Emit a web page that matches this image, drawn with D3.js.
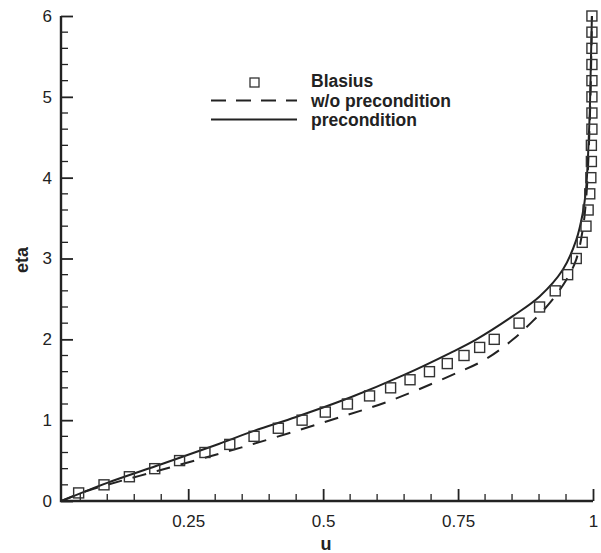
<!DOCTYPE html>
<html>
<head>
<meta charset="utf-8">
<script src="https://cdn.jsdelivr.net/npm/d3@7"></script>
<style>
  body { margin: 0; background: #fff; }
  text { font-family: "Liberation Sans", Arial, sans-serif; fill: #222; }
</style>
</head>
<body>
<script>
/* ------------------------------- chart data ------------------------------- */
// Blasius reference points (eta, u)
const blasiusEta = [0.1, 0.2, 0.3, 0.4, 0.5, 0.6, 0.7, 0.8, 0.9, 1.0,
                    1.1, 1.2, 1.3, 1.4, 1.5, 1.6, 1.7, 1.8, 1.9, 2.0,
                    2.2, 2.4, 2.6, 2.8, 3.0, 3.2, 3.4, 3.6, 3.8, 4.0,
                    4.2, 4.4, 4.6, 4.8, 5.0, 5.2, 5.4, 5.6, 5.8, 6.0];
const blasiusU = [0.047, 0.094, 0.141, 0.188, 0.234, 0.281, 0.327, 0.372, 0.417, 0.461,
                  0.504, 0.545, 0.586, 0.625, 0.661, 0.697, 0.730, 0.761, 0.790, 0.817,
                  0.863, 0.901, 0.930, 0.953, 0.969, 0.980, 0.987, 0.991, 0.994, 0.996,
                  0.997, 0.997, 0.998, 0.998, 0.998, 0.998, 0.998, 0.998, 0.998, 0.998];

// w/o precondition (dashed)
const noPrecU   = [0.015, 0.065, 0.194, 0.349, 0.509, 0.620, 0.729, 0.800, 0.852, 0.886, 0.920, 0.951, 0.969, 0.981, 0.988, 0.993, 0.996, 0.998];
const noPrecEta = [0.0,   0.13,  0.374, 0.663, 0.99,  1.23,  1.53,  1.75,  2.0,   2.21,  2.45,  2.74,  2.99,  3.36,  3.8,   4.5,   5.2,   6.0];

// precondition (solid)
const precU   = [0.015, 0.10,  0.20,  0.30, 0.373, 0.45, 0.55, 0.65, 0.735, 0.784, 0.852, 0.901, 0.944, 0.969, 0.981, 0.987, 0.991, 0.994, 0.996, 0.998];
const precEta = [0.0,   0.225, 0.455, 0.69, 0.87,  1.04, 1.28, 1.56, 1.83,  2.0,   2.29,  2.53,  2.86,  3.23,  3.56,  3.85,  4.3,   4.8,   5.4,   6.0];

const xMajor = [0.25, 0.5, 0.75, 1];
const yMajor = [0, 1, 2, 3, 4, 5, 6];

const legendLabels = ["Blasius", "w/o precondition", "precondition"];

/* ------------------------------ document size ----------------------------- */
const width = 601, height = 553;
const plotL = 61, plotR = 593, plotT = 16, plotB = 501;
const ink = "#222";

const svg = d3.select("body").append("svg").attr("width", width).attr("height", height);

const x = d3.scaleLinear().domain([0.0143, 1]).range([plotL, plotR]);
const y = d3.scaleLinear().domain([0, 6]).range([plotB, plotT]);

//clip for the curves
svg.append("clipPath").attr("id", "plot")
    .append("rect").attr("x", plotL).attr("y", plotT - 2).attr("width", plotR - plotL + 3).attr("height", plotB - plotT + 2);

/* ---------------------------------- axes ---------------------------------- */
const xMinor = d3.range(1, 20).map(i => i * 0.05).filter(v => !xMajor.some(m => Math.abs(m - v) < 1e-9));
const yMinor = d3.range(1, 30).map(i => i * 0.2).filter(v => !yMajor.some(m => Math.abs(m - v) < 1e-9));

const xAxis = svg.append("g").attr("transform", `translate(0,${plotB})`)
    .call(d3.axisBottom(x).tickValues(xMajor).tickSize(-12).tickPadding(14).tickFormat(d3.format("")));
xAxis.select(".domain").remove();
xAxis.append("g").selectAll("line").data(xMinor).join("line")
    .attr("x1", d => x(d)).attr("x2", d => x(d)).attr("y1", 0).attr("y2", -7)
    .attr("stroke", ink).attr("stroke-width", 1.3);

const yAxis = svg.append("g").attr("transform", `translate(${plotL},0)`)
    .call(d3.axisLeft(y).tickValues(yMajor).tickSize(-12).tickPadding(9).tickFormat(d3.format("")));
yAxis.select(".domain").remove();
yAxis.append("g").selectAll("line").data(yMinor).join("line")
    .attr("x1", 0).attr("x2", 7).attr("y1", d => y(d)).attr("y2", d => y(d))
    .attr("stroke", ink).attr("stroke-width", 1.3);

svg.selectAll(".tick line").attr("stroke", ink).attr("stroke-width", 1.8);
svg.selectAll(".tick text").attr("font-size", 17).attr("fill", ink)
    .attr("font-family", "Liberation Sans, Arial, sans-serif");

//axis lines
svg.append("path").attr("d", `M${plotL},${plotT}V${plotB}H${plotR}`)
    .attr("fill", "none").attr("stroke", ink).attr("stroke-width", 2.4);

//axis titles
svg.append("text").attr("x", 326).attr("y", 550).attr("text-anchor", "middle")
    .attr("font-size", 18).attr("font-weight", "bold").text("u");
svg.append("text").attr("transform", "translate(28,260) rotate(-90)").attr("text-anchor", "middle")
    .attr("font-size", 18).attr("font-weight", "bold").text("eta");

/* ---------------------------------- data ---------------------------------- */
const line = d3.line().x(d => x(d[0])).y(d => y(d[1])).curve(d3.curveCatmullRom);
const plot = svg.append("g").attr("clip-path", "url(#plot)");

svg.append("g").selectAll("rect").data(d3.zip(blasiusU, blasiusEta)).join("rect")
    .attr("x", d => x(d[0]) - 5).attr("y", d => y(d[1]) - 5)
    .attr("width", 10).attr("height", 10)
    .attr("fill", "none").attr("stroke", "#333").attr("stroke-width", 1.4);

plot.append("path").datum(d3.zip(noPrecU, noPrecEta))
    .attr("d", line).attr("fill", "none").attr("stroke", ink).attr("stroke-width", 2)
    .attr("stroke-dasharray", "14,11");

plot.append("path").datum(d3.zip(precU, precEta))
    .attr("d", line).attr("fill", "none").attr("stroke", ink).attr("stroke-width", 2);

/* --------------------------------- legend --------------------------------- */
const legend = svg.append("g");
legend.append("rect").attr("x", 250).attr("y", 78).attr("width", 9).attr("height", 9)
    .attr("fill", "none").attr("stroke", "#333").attr("stroke-width", 1.3);
legend.append("line").attr("x1", 211).attr("x2", 297).attr("y1", 100.5).attr("y2", 100.5)
    .attr("stroke", ink).attr("stroke-width", 2).attr("stroke-dasharray", "15,10");
legend.append("line").attr("x1", 211).attr("x2", 297).attr("y1", 119.5).attr("y2", 119.5)
    .attr("stroke", ink).attr("stroke-width", 2);
legend.selectAll("text").data(legendLabels).join("text")
    .attr("x", 311).attr("y", (d, i) => 87 + i * 19.5)
    .attr("font-size", 17.5).attr("font-weight", "bold").text(d => d);
</script>
</body>
</html>
